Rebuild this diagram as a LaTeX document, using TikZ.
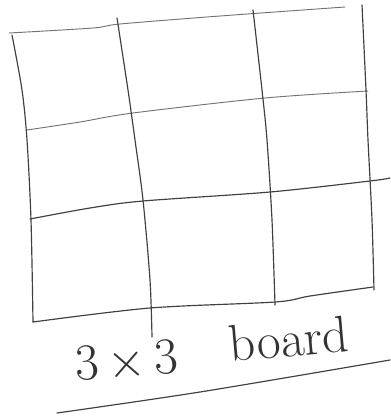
\documentclass[tikz,border=0pt]{standalone}
\usepackage{tikz}

\begin{document}
\begin{tikzpicture}[
    x=0.03cm, y=-0.03cm,
    pencil/.style={draw=black!75, line width=1pt, line cap=round, line join=round},
    faint/.style={draw=black!55, line width=0.8pt, line cap=round},
    hand/.style={font=\fontsize{44}{46}\selectfont, text=black!80, inner sep=0pt},
]
    \useasboundingbox (0,0) rectangle (390,418);

    % rows
    \draw[faint] plot[smooth] coordinates {(9,33) (93,28) (120,24) (220,16) (345,7)};
    \draw[faint] plot[smooth] coordinates {(27,130) (80,122) (133,113) (265,98) (368,91)};
    \draw[pencil] plot[smooth] coordinates {(30,219) (90,208) (143,201) (270,192) (370,181) (390,178)};
    \draw[pencil] plot[smooth] coordinates {(33,322) (150,308) (275,302) (310,296) (373,287)};

    % columns
    \draw[pencil] plot[smooth] coordinates {(12,35) (22,90) (27,140) (31,220) (33,322)};
    \draw[pencil] plot[smooth] coordinates {(117,18) (128,90) (135,140) (143,200) (150,280) (152,337)};
    \draw[pencil] plot[smooth] coordinates {(253,10) (262,90) (267,140) (272,220) (275,305)};
    \draw[pencil] plot[smooth] coordinates {(362,5) (366,90) (368,140) (372,220) (374,290)};

    % caption
    \node[hand, rotate=4] (dims) at (127,362) {3\,\scalebox{1.7}{$\times$}\,3};
    \node[hand, rotate=5] (word) at (289,339) {board};
    \draw[pencil] plot[smooth] coordinates {(57,413) (200,392) (390,360)};
\end{tikzpicture}
\end{document}
